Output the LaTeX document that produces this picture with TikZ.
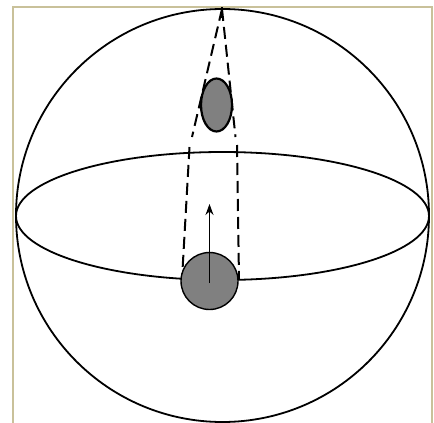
\documentclass[tikz,border=0pt]{standalone}
\usetikzlibrary{arrows.meta}
\definecolor{frametan}{RGB}{201,193,154}
\definecolor{diskgray}{RGB}{128,128,128}
\begin{document}
\begin{tikzpicture}[x=1pt,y=-1pt,
  outline/.style={draw=black,line width=1.8pt},
  ray/.style={draw=black,line width=2pt,dash pattern=on 12pt off 6pt},
  body/.style={fill=diskgray,draw=black,line width=1.4pt}]
\useasboundingbox (0,0) rectangle (434,423);
\fill[white] (0,0) rectangle (434,423);
% frame
\draw[frametan,line width=1.6pt] (13.2,430) -- (13.2,6.8) -- (431.8,6.8) -- (431.8,430);
% sphere and equator
\draw[outline] (222.5,215.5) circle[radius=206.5];
\draw[outline] (222.5,216) ellipse[x radius=206.5,y radius=64];
% rays
\coordinate (apex) at (222,9);
\coordinate (ul) at (192,137);
\coordinate (ur) at (235.5,137);
\coordinate (ll1) at (189.5,147);
\coordinate (ll2) at (182,279);
\coordinate (lr1) at (237,145);
\coordinate (lr2) at (239,279);
\draw[ray] (apex) -- (ul);
\draw[ray] (apex) -- (ur);
\draw[ray] (ll1) -- (ll2);
\draw[ray] (lr1) -- (lr2);
\draw[black,line width=1.6pt] (222,7) -- (222,18);
% image (upper ellipse)
\draw[body,line width=2.2pt] (216.5,105) ellipse[x radius=15.5,y radius=26.5];
% object disk
\draw[body] (209.5,281) circle[radius=28.5];
\draw[black,line width=1.5pt,-{Stealth[length=11pt,width=8pt]}] (209.5,283) -- (209.5,204);
\end{tikzpicture}
\end{document}
